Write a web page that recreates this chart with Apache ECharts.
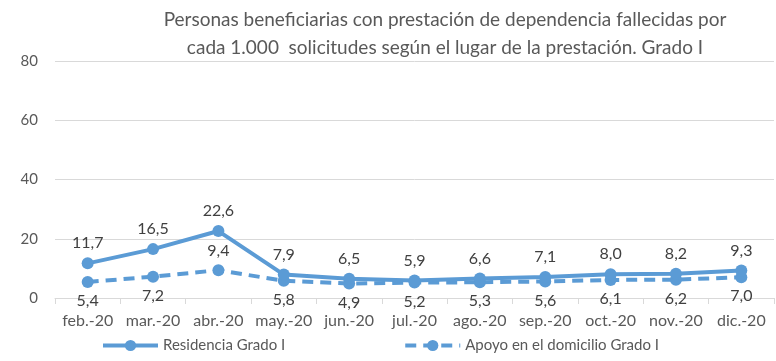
<!DOCTYPE html>
<html>
<head>
<meta charset="utf-8">
<script src="https://cdn.jsdelivr.net/npm/echarts@6/dist/echarts.min.js"></script>
<style>
html,body{margin:0;padding:0;background:#fff;}
#chart{width:776px;height:361px;}
</style>
</head>
<body>
<div id="chart"></div>
<script>
const months = ['feb.-20','mar.-20','abr.-20','may.-20','jun.-20','jul.-20','ago.-20','sep.-20','oct.-20','nov.-20','dic.-20'];
const residencia = [11.7,16.5,22.6,7.9,6.5,5.9,6.6,7.1,8.0,8.2,9.3];
const apoyo = [5.4,7.2,9.4,5.8,4.9,5.2,5.3,5.6,6.1,6.2,7.0];
const yTicks = [0,20,40,60,80];

const FONT = 'Lato, "Noto Sans", sans-serif';
const BLUE = '#5B9BD5';
const fmt = p => p.value.toFixed(1).replace('.', ',');

const chart = echarts.init(document.getElementById('chart'));
chart.setOption({
  animation: false,
  textStyle: {fontFamily: FONT},
  title: {
    text: 'Personas beneficiarias con prestación de dependencia fallecidas por\ncada 1.000  solicitudes según el lugar de la prestación. Grado I',
    left: 440, top: 1, textAlign: 'center',
    textStyle: {fontFamily: FONT, fontSize: 19, fontWeight: 'normal', color: '#595959', lineHeight: 28}
  },
  grid: {left: 55, right: 2, top: 61, bottom: 63},
  legend: {
    bottom: 3, left: 96, itemGap: 118,
    itemWidth: 55, itemHeight: 14,
    lineStyle: {width: 4},
    textStyle: {fontFamily: FONT, fontSize: 15, color: '#595959'},
    data: ['Residencia Grado I', 'Apoyo en el domicilio Grado I']
  },
  xAxis: {
    type: 'category', data: months, boundaryGap: true,
    axisLine: {lineStyle: {color: '#D9D9D9', width: 1}},
    axisTick: {show: true, length: 6, lineStyle: {color: '#D9D9D9'}},
    axisLabel: {interval: 0, fontFamily: FONT, fontSize: 16, color: '#595959', margin: 15}
  },
  yAxis: {
    type: 'value', min: yTicks[0], max: yTicks[yTicks.length - 1], interval: 20,
    axisLine: {show: false}, axisTick: {show: false},
    splitLine: {lineStyle: {color: '#D9D9D9', width: 1}},
    axisLabel: {fontFamily: FONT, fontSize: 15, color: '#595959', margin: 17}
  },
  series: [
    {
      name: 'Residencia Grado I', type: 'line', data: residencia,
      symbol: 'circle', symbolSize: 12,
      lineStyle: {color: BLUE, width: 4},
      itemStyle: {color: BLUE},
      label: {show: true, position: 'top', distance: 6, formatter: fmt,
        fontFamily: FONT, fontSize: 16, color: '#404040'},
      z: 3
    },
    {
      name: 'Apoyo en el domicilio Grado I', type: 'line',
      data: apoyo.map((v, i) => i === 2 ? {value: v, label: {position: 'top'}} : v),
      symbol: 'circle', symbolSize: 12,
      lineStyle: {color: BLUE, width: 4, type: [11, 7]},
      itemStyle: {color: BLUE},
      label: {show: true, position: 'bottom', distance: 5, formatter: fmt,
        fontFamily: FONT, fontSize: 16, color: '#404040'},
      z: 2
    }
  ]
});
</script>
</body>
</html>
